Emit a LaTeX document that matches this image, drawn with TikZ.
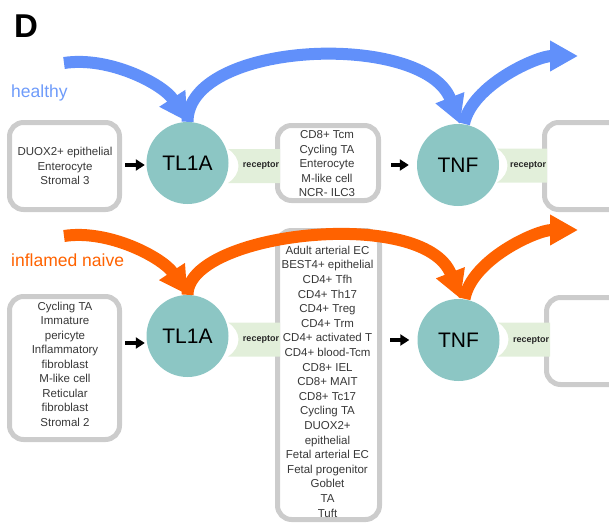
\documentclass[tikz,border=0pt]{standalone}
\usepackage{fontspec}
\setmainfont{Liberation Sans}
\usetikzlibrary{arrows.meta,calc}
\definecolor{hblue}{RGB}{97,144,250}
\definecolor{hbluetxt}{RGB}{110,155,250}
\definecolor{iorange}{RGB}{255,98,0}
\definecolor{tealc}{RGB}{140,198,196}
\definecolor{recgreen}{RGB}{226,239,218}
\definecolor{boxgray}{RGB}{204,204,204}
\definecolor{txtgray}{RGB}{55,55,55}
\begin{document}
\begin{tikzpicture}[x=1pt,y=-1pt,
  cellbox/.style={draw=boxgray, line width=5pt, rounded corners=14pt, inner sep=0pt},
  celltext/.style={align=center, text=txtgray, font=\fontsize{11.5}{14.5}\selectfont, inner sep=0pt},
  ligand/.style={circle, fill=tealc, minimum size=82pt, inner sep=0pt, font=\fontsize{21}{24}\selectfont},
  smallarrow/.style={-{Triangle[width=11pt,length=9pt]}, line width=4pt, black},
  bigarrow/.style={-{Triangle[width=29pt,length=28pt]}, line width=12pt},
  rectext/.style={font=\bfseries\fontsize{9}{10}\selectfont, inner sep=0pt, text=black!85},
  condlabel/.style={anchor=west, inner sep=0pt, font=\fontsize{17.5}{20}\selectfont},
  pics/recept/.style={code={
     \fill[recgreen] (0,-17) -- (#1,-17) -- (#1,17) -- (0,17) .. controls (14,8) and (14,-8) .. (0,-17);
  }},
]
\useasboundingbox (0,0) rectangle (609,525);

% panel letter and condition labels
\node[anchor=base west, inner sep=0pt, font=\bfseries\fontsize{33}{36}\selectfont] (letter) at (14,37) {D};
\node[condlabel, text=hbluetxt] (healthy) at (11,93) {healthy};
\node[condlabel, text=iorange] (inflamed) at (11,260) {inflamed naive};

% ---------- healthy row ----------
\node[cellbox, minimum width=110pt, minimum height=87pt] (hl) at (64.5,166) {};
\node[celltext] (hlt) at (65,166) {DUOX2+ epithelial\\Enterocyte\\Stromal 3};
\node[cellbox, minimum width=101pt, minimum height=75pt] (hm) at (328,163) {};
\node[celltext] (hmt) at (327,164) {CD8+ Tcm\\Cycling TA\\Enterocyte\\M-like cell\\NCR- ILC3};
\node[cellbox, minimum width=95pt, minimum height=87pt] (hr) at (592,166) {};

\pic at (228,166) {recept=52};
\pic at (497,165.5) {recept=50};
\node[rectext] (hrec1) at (261,165) {receptor};
\node[rectext] (hrec2) at (528,165) {receptor};

\node[ligand] (tla1) at (187.5,163) {TL1A};
\node[ligand] (tnf1) at (458,165) {TNF};

\draw[smallarrow] ($(tla1.west -| hl.east)+(3,2)$) -- ($(tla1.west)+(-1.5,2)$);
\draw[smallarrow] ($(tnf1.west -| hm.east)+(10,0)$) -- ($(tnf1.west)+(-8,0)$);

% ---------- inflamed row ----------
\node[cellbox, minimum width=110pt, minimum height=143pt] (il) at (64.5,368) {};
\node[celltext] (ilt) at (65,364) {Cycling TA\\Immature\\pericyte\\Inflammatory\\fibroblast\\M-like cell\\Reticular\\fibroblast\\Stromal 2};
\node[cellbox, minimum width=102pt, minimum height=289pt] (im) at (328.5,375) {};
\node[celltext, font=\fontsize{11.5}{14.6}\selectfont] (imt) at (327.5,381.5) {Adult arterial EC\\BEST4+ epithelial\\CD4+ Tfh\\CD4+ Th17\\CD4+ Treg\\CD4+ Trm\\CD4+ activated T\\CD4+ blood-Tcm\\CD8+ IEL\\CD8+ MAIT\\CD8+ Tc17\\Cycling TA\\DUOX2+\\epithelial\\Fetal arterial EC\\Fetal progenitor\\Goblet\\TA\\Tuft};
\node[cellbox, minimum width=95pt, minimum height=87pt] (ir) at (594,341) {};

\pic at (228,339.5) {recept=52};
\pic at (498,339.5) {recept=52};
\node[rectext] (irec1) at (261,339) {receptor};
\node[rectext] (irec2) at (531,340) {receptor};

\node[ligand] (tla2) at (187.5,336) {TL1A};
\node[ligand] (tnf2) at (458.5,340) {TNF};

\draw[smallarrow] ($(tla2.west -| il.east)+(3,7)$) -- ($(tla2.west)+(-1.5,7)$);
\draw[smallarrow] ($(tnf2.west -| im.east)+(8,0)$) -- ($(tnf2.west)+(-8,0)$);

% ---------- big flow arrows ----------
\coordinate (hs) at (64,63);
\coordinate (he) at (578,56);
\draw[bigarrow, hblue] (hs) .. controls (109,56) and (163,84) .. (tla1.north);
\draw[bigarrow, hblue] (tla1.north) .. controls (187.5,40) and (424,31) .. ([xshift=2pt]tnf1.north);
\draw[bigarrow, hblue] ([xshift=6pt]tnf1.north) .. controls (472,85) and (537,56) .. (he);

\coordinate (is) at (64,236);
\coordinate (ie) at (578,230);
\draw[bigarrow, iorange] (is) .. controls (109,229) and (163,258) .. (tla2.north);
\draw[bigarrow, iorange] (tla2.north) .. controls (187.5,232) and (424.5,206) .. ([xshift=2pt]tnf2.north);
\draw[bigarrow, iorange] ([xshift=6pt]tnf2.north) .. controls (472,259) and (537,230) .. (ie);
\end{tikzpicture}
\end{document}
